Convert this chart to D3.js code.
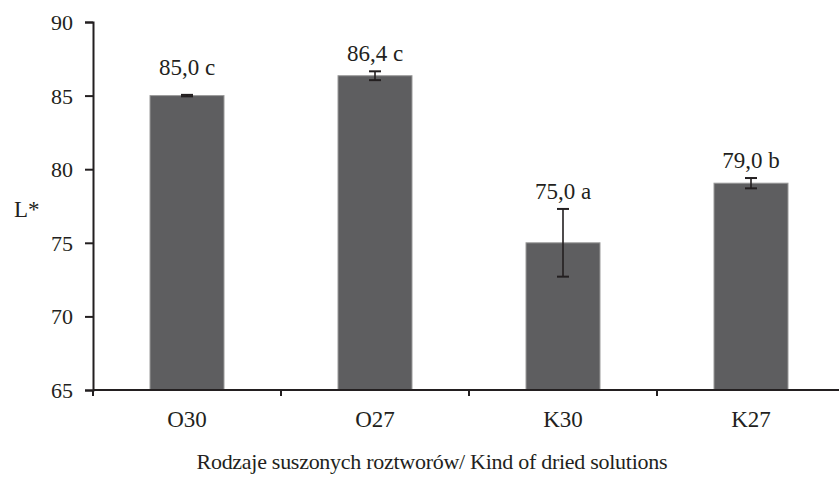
<!DOCTYPE html>
<html><head><meta charset="utf-8">
<script src="https://cdn.jsdelivr.net/npm/d3@7"></script>
<style>
body{margin:0;background:#fff;}
text{font-family:"Liberation Serif","Times New Roman",serif;fill:#231f20;}
</style></head>
<body><svg id="c" width="839" height="479"></svg>
<script>
const categories = ["O30","O27","K30","K27"];
const values = [85.0, 86.35, 75.0, 79.05];
const errors = [0.05, 0.3, 2.3, 0.35];
const labels = ["85,0 c","86,4 c","75,0 a","79,0 b"];
const yTicks = [65,70,75,80,85,90];
const yTitle = "L*";
const xTitle = "Rodzaje suszonych roztworów/ Kind of dried solutions";

const svg = d3.select("#c");
const mLeft = 93, mTop = 22, mBottom = 390, band = 188;
const x = d3.scaleBand().domain(categories).range([mLeft, mLeft + band*categories.length]).paddingInner(0).paddingOuter(0);
const y = d3.scaleLinear().domain([65,90]).range([mBottom, mTop]);
const bw = 74;
const fs = 23;
const cx = d => x(d) + x.bandwidth()/2;

// bars
svg.selectAll("rect.bar").data(categories).enter().append("rect")
  .attr("x", d => cx(d) - bw/2)
  .attr("y", (d,i) => y(values[i]))
  .attr("width", bw)
  .attr("height", (d,i) => y(65) - y(values[i]))
  .attr("fill", "#5e5e60")
  .attr("stroke", "#9a9a9a").attr("stroke-width", 1);

// error bars
const eg = svg.selectAll("g.err").data(categories).enter().append("g")
  .attr("stroke", "#231f20").attr("stroke-width", 1.6);
eg.append("line")
  .attr("x1", cx).attr("x2", cx)
  .attr("y1", (d,i) => y(values[i] + errors[i])).attr("y2", (d,i) => y(values[i] - errors[i]));
[1,-1].forEach(s => {
  eg.append("line")
    .attr("x1", d => cx(d) - 6).attr("x2", d => cx(d) + 6)
    .attr("y1", (d,i) => y(values[i] + s*errors[i])).attr("y2", (d,i) => y(values[i] + s*errors[i]))
    .attr("stroke-width", 2);
});

// value labels
svg.selectAll("text.val").data(categories).enter().append("text")
  .attr("x", cx)
  .attr("y", (d,i) => errors[i] < 0.1 ? y(values[i]) - 21 : y(values[i] + errors[i]) - 10)
  .attr("text-anchor", "middle").attr("font-size", fs)
  .text((d,i) => labels[i]);

// y axis
const ya = svg.append("g").attr("transform", `translate(${mLeft},0)`)
  .call(d3.axisLeft(y).tickValues(yTicks).tickSize(8).tickPadding(12));
ya.select(".domain").attr("stroke", "#231f20").attr("stroke-width", 2);
ya.selectAll(".tick line").attr("stroke", "#231f20").attr("stroke-width", 2);
ya.selectAll(".tick text").attr("font-size", 22).attr("font-family", "Liberation Serif").attr("fill", "#231f20").attr("dy", "0.34em");

// x axis
const xa = svg.append("g").attr("transform", `translate(0,${mBottom})`);
xa.append("line").attr("x1", mLeft).attr("x2", mLeft + band*categories.length)
  .attr("stroke", "#231f20").attr("stroke-width", 2);
xa.selectAll("line.tk").data(d3.range(categories.length + 1)).enter().append("line")
  .attr("x1", i => mLeft + i*x.bandwidth()).attr("x2", i => mLeft + i*x.bandwidth())
  .attr("y1", 0).attr("y2", 6).attr("stroke", "#231f20").attr("stroke-width", 2);
xa.selectAll("text").data(categories).enter().append("text")
  .attr("x", cx).attr("y", 37)
  .attr("text-anchor", "middle").attr("font-size", fs).text(d => d);

// titles
svg.append("text").attr("x", 14).attr("y", 217).attr("font-size", fs).text(yTitle);
svg.append("text").attr("x", 432).attr("y", 469).attr("text-anchor", "middle").attr("font-size", 22)
  .attr("textLength", 471).attr("lengthAdjust", "spacing").text(xTitle);
</script></body></html>
